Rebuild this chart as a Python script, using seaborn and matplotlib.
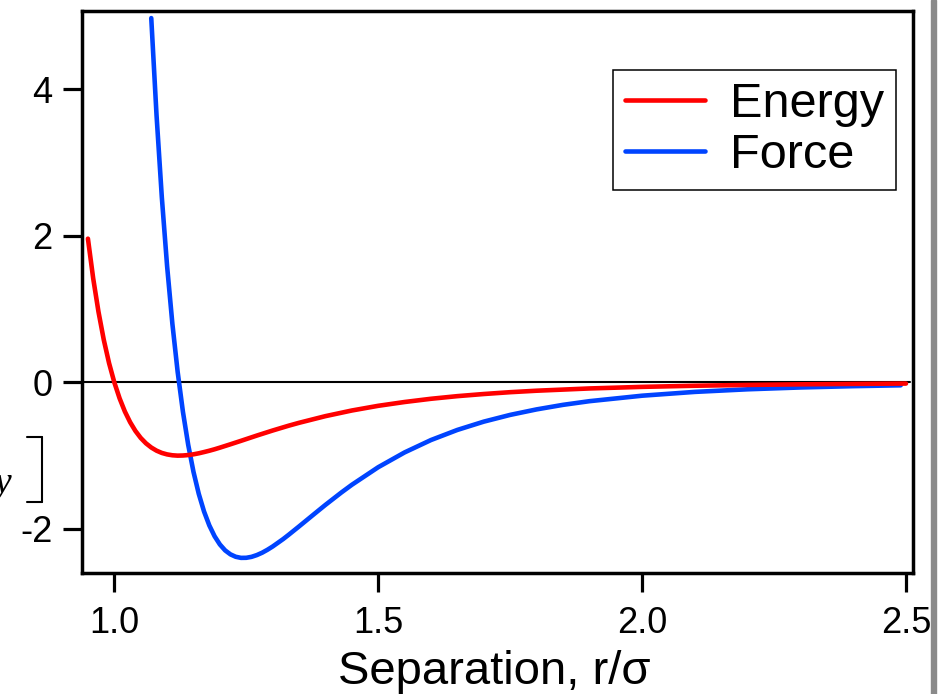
import numpy as np
import pandas as pd
import seaborn as sns
import matplotlib.pyplot as plt
from matplotlib.lines import Line2D
from matplotlib.patches import Rectangle

# Lennard-Jones curves
r_energy = [0.95, 0.96, 0.97, 0.98, 0.99, 1.00, 1.01, 1.02, 1.03, 1.04, 1.05,
            1.06, 1.07, 1.08, 1.09, 1.10, 1.11, 1.12, 1.13, 1.14, 1.15, 1.16,
            1.17, 1.18, 1.19, 1.20, 1.22, 1.24, 1.25, 1.27, 1.30, 1.33, 1.35,
            1.40, 1.45, 1.50, 1.55, 1.60, 1.65, 1.70, 1.75, 1.80, 1.90, 2.00,
            2.10, 2.20, 2.30, 2.40, 2.50]
energy = [1.961, 1.418, 0.963, 0.582, 0.264, 0.0, -0.218, -0.398, -0.544,
          -0.663, -0.758, -0.832, -0.889, -0.932, -0.963, -0.983, -0.995,
          -1.000, -0.998, -0.992, -0.982, -0.968, -0.951, -0.933, -0.913,
          -0.891, -0.845, -0.798, -0.774, -0.726, -0.657, -0.592, -0.552,
          -0.461, -0.384, -0.320, -0.268, -0.224, -0.188, -0.159, -0.134,
          -0.114, -0.0832, -0.0615, -0.0461, -0.0350, -0.0268, -0.0208,
          -0.0163]

r_force = [1.07, 1.08, 1.09, 1.10, 1.11, 1.12, 1.13, 1.14, 1.15, 1.16, 1.17,
           1.18, 1.19, 1.20, 1.21, 1.22, 1.23, 1.24, 1.25, 1.26, 1.27, 1.28,
           1.29, 1.30, 1.32, 1.33, 1.35, 1.36, 1.38, 1.40, 1.43, 1.45, 1.50,
           1.55, 1.60, 1.65, 1.70, 1.75, 1.80, 1.85, 1.90, 2.00, 2.10, 2.20,
           2.30, 2.40, 2.49]
force = [4.971, 3.646, 2.528, 1.588, 0.801, 0.144, -0.401, -0.852, -1.221,
         -1.521, -1.762, -1.952, -2.100, -2.212, -2.293, -2.347, -2.380,
         -2.395, -2.394, -2.381, -2.357, -2.325, -2.285, -2.240, -2.138,
         -2.082, -1.966, -1.907, -1.789, -1.672, -1.504, -1.398, -1.158,
         -0.956, -0.787, -0.649, -0.536, -0.444, -0.369, -0.307, -0.257,
         -0.182, -0.130, -0.0945, -0.0696, -0.0518, -0.0401]

xticks = [1.0, 1.5, 2.0, 2.5]
xtick_labels = ["1.0", "1.5", "2.0", "2.5"]
yticks = [-2, 0, 2, 4]
ytick_labels = ["-2", "0", "2", "4"]

sns.set_style("ticks")
plt.rcParams['font.family'] = ['Liberation Sans', 'DejaVu Sans']
plt.rcParams['text.color'] = 'black'
plt.rcParams['axes.labelcolor'] = 'black'
plt.rcParams['xtick.color'] = 'black'
plt.rcParams['ytick.color'] = 'black'

fig = plt.figure(figsize=(9.47, 6.94), dpi=100)
ax = fig.add_axes([0.0861, 0.1744, 0.8785, 0.8102])

ax.axhline(0, xmin=0, xmax=0.996, color='black', lw=1.5, zorder=1)
sns.lineplot(x=r_energy, y=energy, color='#ff0000', lw=3.3, sort=False,
             label='Energy', ax=ax, zorder=3)
sns.lineplot(x=r_force, y=force, color='#0044ff', lw=3.3, sort=False,
             label='Force', ax=ax, zorder=2)

ax.set_xlim(0.9379, 2.5142)
ax.set_ylim(-2.601, 5.072)
ax.set_xticks(xticks)
ax.set_xticklabels(xtick_labels)
ax.set_yticks(yticks)
ax.set_yticklabels(ytick_labels)

for s in ax.spines.values():
    s.set_linewidth(2.5)
    s.set_color('black')
    s.set_visible(True)
ax.tick_params(axis='both', direction='out', length=14, width=2.3,
               labelsize=26, colors='black')
ax.tick_params(axis='x', pad=10)
ax.tick_params(axis='y', pad=7)

ax.set_xlabel("Separation, r/σ", fontsize=34)
ax.xaxis.label.set_va('baseline')
ax.xaxis.set_label_coords(0.496, -0.1974)
ax.set_ylabel("")

# legend with plain black frame
leg = ax.legend(loc='upper right', bbox_to_anchor=(0.979, 0.8945),
                borderaxespad=0, fontsize=35, handlelength=1.65,
                handletextpad=0.5, borderpad=0.25, labelspacing=0.12,
                fancybox=False, framealpha=1, edgecolor='black')
leg.get_frame().set_linewidth(1.1)

# leftover bits at the edges of the original figure
fig.text(-0.006, 1 - 493 / 694, "y", fontsize=27, style='italic',
         family=['Liberation Serif', 'DejaVu Serif'], ha='left', va='baseline')
bx = 41.7 / 947
y0 = 1 - 502 / 694
y1 = 1 - 436.7 / 694
fig.add_artist(Line2D([bx, bx], [y0, y1], color='black', lw=1.5))
fig.add_artist(Line2D([27 / 947, bx], [y0, y0], color='black', lw=1.5))
fig.add_artist(Line2D([27 / 947, bx], [y1, y1], color='black', lw=1.5))
fig.patches.append(Rectangle((931 / 947, 0), 5 / 947, 1, transform=fig.transFigure,
                             color='#8a8a8a', zorder=0))

fig.savefig('out.png', dpi=100)
